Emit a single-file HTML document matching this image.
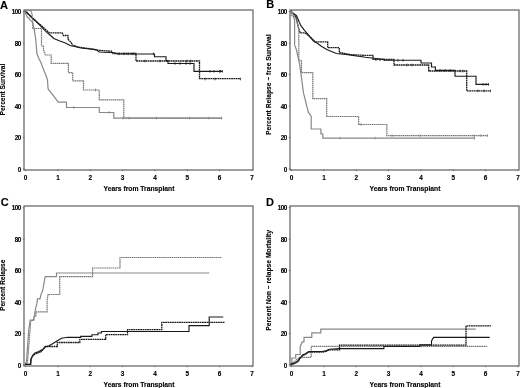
<!DOCTYPE html><html><head><meta charset="utf-8"><style>html,body{margin:0;padding:0;background:#fff;overflow:hidden;width:520px;height:388px;}svg{display:block;}#w{will-change:transform;width:520px;height:388px;}text{stroke:#000;stroke-width:0.12px;font-family:"Liberation Sans",sans-serif;font-weight:bold;fill:#000;}</style></head><body>
<div id="w">
<svg width="520" height="388" viewBox="0 0 520 388">
<rect width="520" height="388" fill="#fff"/>
<g>
<text x="0" y="8.7" font-size="11">A</text>
<text x="266.2" y="8.2" font-size="11">B</text>
<text x="0.8" y="205.6" font-size="11">C</text>
<text x="266" y="205.6" font-size="11">D</text>
<rect x="24" y="10" width="229" height="160" fill="none" stroke="#6c6c6c" stroke-width="1.3"/>
<text x="20.6" y="14.40" font-size="6.3" text-anchor="end" letter-spacing="-0.55">100</text>
<line x1="22.8" y1="11.70" x2="24.5" y2="11.70" stroke="#6c6c6c" stroke-width="0.9"/>
<text x="20.6" y="45.86" font-size="6.3" text-anchor="end" letter-spacing="-0.55">80</text>
<line x1="22.8" y1="43.16" x2="24.5" y2="43.16" stroke="#6c6c6c" stroke-width="0.9"/>
<text x="20.6" y="77.32" font-size="6.3" text-anchor="end" letter-spacing="-0.55">60</text>
<line x1="22.8" y1="74.62" x2="24.5" y2="74.62" stroke="#6c6c6c" stroke-width="0.9"/>
<text x="20.6" y="108.78" font-size="6.3" text-anchor="end" letter-spacing="-0.55">40</text>
<line x1="22.8" y1="106.08" x2="24.5" y2="106.08" stroke="#6c6c6c" stroke-width="0.9"/>
<text x="20.6" y="140.24" font-size="6.3" text-anchor="end" letter-spacing="-0.55">20</text>
<line x1="22.8" y1="137.54" x2="24.5" y2="137.54" stroke="#6c6c6c" stroke-width="0.9"/>
<text x="20.6" y="171.70" font-size="6.3" text-anchor="end" letter-spacing="-0.55">0</text>
<line x1="22.8" y1="169.00" x2="24.5" y2="169.00" stroke="#6c6c6c" stroke-width="0.9"/>
<text x="25.60" y="179.5" font-size="6.4" text-anchor="middle">0</text>
<line x1="25.60" y1="169.5" x2="25.60" y2="171.2" stroke="#6c6c6c" stroke-width="0.9"/>
<text x="57.93" y="179.5" font-size="6.4" text-anchor="middle">1</text>
<line x1="57.93" y1="169.5" x2="57.93" y2="171.2" stroke="#6c6c6c" stroke-width="0.9"/>
<text x="90.26" y="179.5" font-size="6.4" text-anchor="middle">2</text>
<line x1="90.26" y1="169.5" x2="90.26" y2="171.2" stroke="#6c6c6c" stroke-width="0.9"/>
<text x="122.59" y="179.5" font-size="6.4" text-anchor="middle">3</text>
<line x1="122.59" y1="169.5" x2="122.59" y2="171.2" stroke="#6c6c6c" stroke-width="0.9"/>
<text x="154.92" y="179.5" font-size="6.4" text-anchor="middle">4</text>
<line x1="154.92" y1="169.5" x2="154.92" y2="171.2" stroke="#6c6c6c" stroke-width="0.9"/>
<text x="187.25" y="179.5" font-size="6.4" text-anchor="middle">5</text>
<line x1="187.25" y1="169.5" x2="187.25" y2="171.2" stroke="#6c6c6c" stroke-width="0.9"/>
<text x="219.58" y="179.5" font-size="6.4" text-anchor="middle">6</text>
<line x1="219.58" y1="169.5" x2="219.58" y2="171.2" stroke="#6c6c6c" stroke-width="0.9"/>
<text x="251.91" y="179.5" font-size="6.4" text-anchor="middle">7</text>
<line x1="251.91" y1="169.5" x2="251.91" y2="171.2" stroke="#6c6c6c" stroke-width="0.9"/>
<text x="139" y="190.9" font-size="6.75" text-anchor="middle">Years from Transplant</text>
<text transform="translate(4.9,89.6) rotate(-90)" x="0" y="0" font-size="6.6" text-anchor="middle">Percent Survival</text>
<line x1="119" y1="52.5" x2="119" y2="55.099999999999994" stroke="#1a1a1a" stroke-width="0.8"/>
<line x1="124" y1="52.5" x2="124" y2="55.099999999999994" stroke="#1a1a1a" stroke-width="0.8"/>
<line x1="128" y1="52.5" x2="128" y2="55.099999999999994" stroke="#1a1a1a" stroke-width="0.8"/>
<line x1="132" y1="52.5" x2="132" y2="55.099999999999994" stroke="#1a1a1a" stroke-width="0.8"/>
<line x1="134" y1="52.5" x2="134" y2="55.099999999999994" stroke="#1a1a1a" stroke-width="0.8"/>
<line x1="153.4" y1="52.5" x2="153.4" y2="55.099999999999994" stroke="#1a1a1a" stroke-width="0.8"/>
<line x1="175" y1="62.2" x2="175" y2="64.8" stroke="#1a1a1a" stroke-width="0.8"/>
<line x1="180" y1="62.2" x2="180" y2="64.8" stroke="#1a1a1a" stroke-width="0.8"/>
<line x1="186" y1="62.2" x2="186" y2="64.8" stroke="#1a1a1a" stroke-width="0.8"/>
<line x1="190" y1="62.2" x2="190" y2="64.8" stroke="#1a1a1a" stroke-width="0.8"/>
<line x1="186.8" y1="59.7" x2="186.8" y2="62.3" stroke="#1a1a1a" stroke-width="0.8"/>
<line x1="190.8" y1="59.7" x2="190.8" y2="62.3" stroke="#1a1a1a" stroke-width="0.8"/>
<line x1="209.9" y1="70.0" x2="209.9" y2="72.6" stroke="#1a1a1a" stroke-width="0.8"/>
<line x1="213.9" y1="70.0" x2="213.9" y2="72.6" stroke="#1a1a1a" stroke-width="0.8"/>
<line x1="219.5" y1="70.0" x2="219.5" y2="72.6" stroke="#1a1a1a" stroke-width="0.8"/>
<line x1="220.5" y1="70.0" x2="220.5" y2="72.6" stroke="#1a1a1a" stroke-width="0.8"/>
<line x1="222.4" y1="70.0" x2="222.4" y2="72.6" stroke="#1a1a1a" stroke-width="0.8"/>
<line x1="145" y1="59.7" x2="145" y2="62.3" stroke="#1a1a1a" stroke-width="0.8"/>
<line x1="160" y1="59.7" x2="160" y2="62.3" stroke="#1a1a1a" stroke-width="0.8"/>
<line x1="205" y1="77.7" x2="205" y2="80.3" stroke="#1a1a1a" stroke-width="0.8"/>
<line x1="215" y1="77.7" x2="215" y2="80.3" stroke="#1a1a1a" stroke-width="0.8"/>
<line x1="240.4" y1="77.7" x2="240.4" y2="80.3" stroke="#1a1a1a" stroke-width="0.8"/>
<line x1="73.8" y1="106.2" x2="73.8" y2="108.8" stroke="#777" stroke-width="0.8"/>
<line x1="95.5" y1="88.7" x2="95.5" y2="91.3" stroke="#777" stroke-width="0.8"/>
<line x1="109" y1="111.2" x2="109" y2="113.8" stroke="#777" stroke-width="0.8"/>
<line x1="123" y1="116.8" x2="123" y2="119.39999999999999" stroke="#777" stroke-width="0.8"/>
<line x1="129" y1="116.8" x2="129" y2="119.39999999999999" stroke="#777" stroke-width="0.8"/>
<line x1="156.4" y1="116.8" x2="156.4" y2="119.39999999999999" stroke="#777" stroke-width="0.8"/>
<line x1="189.7" y1="116.8" x2="189.7" y2="119.39999999999999" stroke="#777" stroke-width="0.8"/>
<line x1="208.9" y1="116.8" x2="208.9" y2="119.39999999999999" stroke="#777" stroke-width="0.8"/>
<line x1="221.5" y1="116.8" x2="221.5" y2="119.39999999999999" stroke="#777" stroke-width="0.8"/>
<path d="M24.5,10.5 L27,12.5 L31.6,17.6 L36,21.5 L40.9,25.2 L47.3,31 L49.3,32.9 H62.1 L63.4,35.5 H68 V39.3 L71.2,42.6 L72.5,45 L78,47 L90,48.8 L99.2,50.4 L111.5,51.2 L113,53.5 H136 V61 H199.5 V78.7 H240.6" fill="none" stroke="#1a1a1a" stroke-width="1.3" stroke-dasharray="1.8,0.5"/>
<path d="M24.5,10.5 L27,13 L31.6,17 L36.4,21.5 L40.9,26.4 L47.3,32.9 L50,35 L53.8,38.5 L59.2,40.8 L65.4,43 L70,45.5 L78,47.3 L80.8,48 L96,49.6 L99.2,52 L114.6,52.7 L117.7,54 H154.5 V56.7 H166 V60.6 H168 V63.5 H194 V71.3 H222.6" fill="none" stroke="#1a1a1a" stroke-width="1.15"/>
<path d="M24.5,10.5 H31 L32,14.2 L32.8,21.5 V28.5 H41.5 V46 H43.5 V50 L45.5,55 H51.2 V63.4 H68.4 V72.6 H72.7 V80.9 H83.5 V90 H99.3 V99.8 H123.8 V118.1 H222.3" fill="none" stroke="#777" stroke-width="1.2" stroke-dasharray="1.6,0.5"/>
<path d="M24.5,10.5 L25.9,14.2 L27.4,17.3 L29,18 L29.7,19.6 L32,21.5 L33.2,25 L34.4,30 L35.7,39.3 L37,54.1 L39,58.7 L40.9,62.5 L43.5,69.6 L46.2,76 L47.5,80 L48.1,89 L52,93.8 L54.9,97.7 L58.2,102.2 H66.5 V107.5 H99.3 V112.5 H113.75 V118.1 H222.3" fill="none" stroke="#888" stroke-width="1.2"/>
<rect x="290" y="10" width="229" height="160" fill="none" stroke="#6c6c6c" stroke-width="1.3"/>
<text x="286.6" y="14.40" font-size="6.3" text-anchor="end" letter-spacing="-0.55">100</text>
<line x1="288.8" y1="11.70" x2="290.5" y2="11.70" stroke="#6c6c6c" stroke-width="0.9"/>
<text x="286.6" y="45.86" font-size="6.3" text-anchor="end" letter-spacing="-0.55">80</text>
<line x1="288.8" y1="43.16" x2="290.5" y2="43.16" stroke="#6c6c6c" stroke-width="0.9"/>
<text x="286.6" y="77.32" font-size="6.3" text-anchor="end" letter-spacing="-0.55">60</text>
<line x1="288.8" y1="74.62" x2="290.5" y2="74.62" stroke="#6c6c6c" stroke-width="0.9"/>
<text x="286.6" y="108.78" font-size="6.3" text-anchor="end" letter-spacing="-0.55">40</text>
<line x1="288.8" y1="106.08" x2="290.5" y2="106.08" stroke="#6c6c6c" stroke-width="0.9"/>
<text x="286.6" y="140.24" font-size="6.3" text-anchor="end" letter-spacing="-0.55">20</text>
<line x1="288.8" y1="137.54" x2="290.5" y2="137.54" stroke="#6c6c6c" stroke-width="0.9"/>
<text x="286.6" y="171.70" font-size="6.3" text-anchor="end" letter-spacing="-0.55">0</text>
<line x1="288.8" y1="169.00" x2="290.5" y2="169.00" stroke="#6c6c6c" stroke-width="0.9"/>
<text x="291.60" y="179.5" font-size="6.4" text-anchor="middle">0</text>
<line x1="291.60" y1="169.5" x2="291.60" y2="171.2" stroke="#6c6c6c" stroke-width="0.9"/>
<text x="323.93" y="179.5" font-size="6.4" text-anchor="middle">1</text>
<line x1="323.93" y1="169.5" x2="323.93" y2="171.2" stroke="#6c6c6c" stroke-width="0.9"/>
<text x="356.26" y="179.5" font-size="6.4" text-anchor="middle">2</text>
<line x1="356.26" y1="169.5" x2="356.26" y2="171.2" stroke="#6c6c6c" stroke-width="0.9"/>
<text x="388.59" y="179.5" font-size="6.4" text-anchor="middle">3</text>
<line x1="388.59" y1="169.5" x2="388.59" y2="171.2" stroke="#6c6c6c" stroke-width="0.9"/>
<text x="420.92" y="179.5" font-size="6.4" text-anchor="middle">4</text>
<line x1="420.92" y1="169.5" x2="420.92" y2="171.2" stroke="#6c6c6c" stroke-width="0.9"/>
<text x="453.25" y="179.5" font-size="6.4" text-anchor="middle">5</text>
<line x1="453.25" y1="169.5" x2="453.25" y2="171.2" stroke="#6c6c6c" stroke-width="0.9"/>
<text x="485.58" y="179.5" font-size="6.4" text-anchor="middle">6</text>
<line x1="485.58" y1="169.5" x2="485.58" y2="171.2" stroke="#6c6c6c" stroke-width="0.9"/>
<text x="517.91" y="179.5" font-size="6.4" text-anchor="middle">7</text>
<line x1="517.91" y1="169.5" x2="517.91" y2="171.2" stroke="#6c6c6c" stroke-width="0.9"/>
<text x="405" y="190.9" font-size="6.75" text-anchor="middle">Years from Transplant</text>
<text transform="translate(270.9,84.7) rotate(-90)" x="0" y="0" font-size="6.75" text-anchor="middle">Percent Relapse – free Survival</text>
<line x1="339.8" y1="136.79999999999998" x2="339.8" y2="139.4" stroke="#777" stroke-width="0.8"/>
<line x1="375" y1="136.79999999999998" x2="375" y2="139.4" stroke="#777" stroke-width="0.8"/>
<line x1="474.5" y1="136.79999999999998" x2="474.5" y2="139.4" stroke="#777" stroke-width="0.8"/>
<line x1="361" y1="123.2" x2="361" y2="125.8" stroke="#777" stroke-width="0.8"/>
<line x1="474" y1="134.29999999999998" x2="474" y2="136.9" stroke="#777" stroke-width="0.8"/>
<line x1="481" y1="134.29999999999998" x2="481" y2="136.9" stroke="#777" stroke-width="0.8"/>
<line x1="487.4" y1="134.29999999999998" x2="487.4" y2="136.9" stroke="#777" stroke-width="0.8"/>
<line x1="392" y1="134.29999999999998" x2="392" y2="136.9" stroke="#888" stroke-width="0.8"/>
<line x1="420" y1="134.29999999999998" x2="420" y2="136.9" stroke="#888" stroke-width="0.8"/>
<line x1="376" y1="58.5" x2="376" y2="61.099999999999994" stroke="#1a1a1a" stroke-width="0.8"/>
<line x1="380" y1="58.5" x2="380" y2="61.099999999999994" stroke="#1a1a1a" stroke-width="0.8"/>
<line x1="384" y1="58.5" x2="384" y2="61.099999999999994" stroke="#1a1a1a" stroke-width="0.8"/>
<line x1="398" y1="58.900000000000006" x2="398" y2="61.5" stroke="#1a1a1a" stroke-width="0.8"/>
<line x1="403" y1="58.900000000000006" x2="403" y2="61.5" stroke="#1a1a1a" stroke-width="0.8"/>
<line x1="407" y1="63.7" x2="407" y2="66.3" stroke="#1a1a1a" stroke-width="0.8"/>
<line x1="412" y1="63.7" x2="412" y2="66.3" stroke="#1a1a1a" stroke-width="0.8"/>
<line x1="440" y1="69.10000000000001" x2="440" y2="71.7" stroke="#1a1a1a" stroke-width="0.8"/>
<line x1="445" y1="69.10000000000001" x2="445" y2="71.7" stroke="#1a1a1a" stroke-width="0.8"/>
<line x1="450" y1="69.10000000000001" x2="450" y2="71.7" stroke="#1a1a1a" stroke-width="0.8"/>
<line x1="460" y1="69.7" x2="460" y2="72.3" stroke="#1a1a1a" stroke-width="0.8"/>
<line x1="463" y1="69.7" x2="463" y2="72.3" stroke="#1a1a1a" stroke-width="0.8"/>
<line x1="483" y1="83.10000000000001" x2="483" y2="85.7" stroke="#1a1a1a" stroke-width="0.8"/>
<line x1="486" y1="83.10000000000001" x2="486" y2="85.7" stroke="#1a1a1a" stroke-width="0.8"/>
<line x1="488.5" y1="83.10000000000001" x2="488.5" y2="85.7" stroke="#1a1a1a" stroke-width="0.8"/>
<line x1="478" y1="89.60000000000001" x2="478" y2="92.2" stroke="#1a1a1a" stroke-width="0.8"/>
<line x1="484" y1="89.60000000000001" x2="484" y2="92.2" stroke="#1a1a1a" stroke-width="0.8"/>
<line x1="490.4" y1="89.60000000000001" x2="490.4" y2="92.2" stroke="#1a1a1a" stroke-width="0.8"/>
<path d="M290.5,10.5 L293,13.5 L296,17 L298.3,27.3 L300.2,32.9 H304.8 L308.6,35.5 L312,38.5 L315,41.8 H327.7 V47.7 H339.3 V52.5 L350,54.5 L365,55.4 H373 V59.3 H394 V65 H428.7 V71 H466.7 V90.9 H490.6" fill="none" stroke="#1a1a1a" stroke-width="1.3" stroke-dasharray="1.8,0.5"/>
<path d="M290.5,10.5 L292.8,12.9 L296.5,15.7 L299.3,22.2 L301.1,25.9 L303.9,29.6 L308.6,35.2 L313.2,40.8 L317,43 L321,46 L326.7,49.6 L336.4,53.5 L346,54.4 L365.4,57.3 L384.4,59.5 V60.2 H421 V63 H431.5 V67 H435.4 V70.4 H455 V76.2 H476 V84.4 H488.7" fill="none" stroke="#1a1a1a" stroke-width="1.15"/>
<path d="M290.5,10.5 L291.9,15.7 L295.6,17.6 L297,21.3 L298.8,28.7 V60 L301.5,61 V72.6 H312.8 V98.7 H326.7 V116.5 H358.6 V124.5 H386.8 V135.6 H487.6" fill="none" stroke="#777" stroke-width="1.2" stroke-dasharray="1.6,0.5"/>
<path d="M290.5,10.5 L292.5,13 L294.6,20.3 V45 L296.5,50 L299.6,64 L303.5,92.9 L308.3,112.2 L311.2,116.4 V129 H320.9 V133.8 H322.8 V138.1 H474.8" fill="none" stroke="#888" stroke-width="1.2"/>
<rect x="24" y="206" width="229" height="160" fill="none" stroke="#6c6c6c" stroke-width="1.3"/>
<text x="20.6" y="210.40" font-size="6.3" text-anchor="end" letter-spacing="-0.55">100</text>
<line x1="22.8" y1="207.70" x2="24.5" y2="207.70" stroke="#6c6c6c" stroke-width="0.9"/>
<text x="20.6" y="241.86" font-size="6.3" text-anchor="end" letter-spacing="-0.55">80</text>
<line x1="22.8" y1="239.16" x2="24.5" y2="239.16" stroke="#6c6c6c" stroke-width="0.9"/>
<text x="20.6" y="273.32" font-size="6.3" text-anchor="end" letter-spacing="-0.55">60</text>
<line x1="22.8" y1="270.62" x2="24.5" y2="270.62" stroke="#6c6c6c" stroke-width="0.9"/>
<text x="20.6" y="304.78" font-size="6.3" text-anchor="end" letter-spacing="-0.55">40</text>
<line x1="22.8" y1="302.08" x2="24.5" y2="302.08" stroke="#6c6c6c" stroke-width="0.9"/>
<text x="20.6" y="336.24" font-size="6.3" text-anchor="end" letter-spacing="-0.55">20</text>
<line x1="22.8" y1="333.54" x2="24.5" y2="333.54" stroke="#6c6c6c" stroke-width="0.9"/>
<text x="20.6" y="367.70" font-size="6.3" text-anchor="end" letter-spacing="-0.55">0</text>
<line x1="22.8" y1="365.00" x2="24.5" y2="365.00" stroke="#6c6c6c" stroke-width="0.9"/>
<text x="25.60" y="375.5" font-size="6.4" text-anchor="middle">0</text>
<line x1="25.60" y1="365.5" x2="25.60" y2="367.2" stroke="#6c6c6c" stroke-width="0.9"/>
<text x="57.93" y="375.5" font-size="6.4" text-anchor="middle">1</text>
<line x1="57.93" y1="365.5" x2="57.93" y2="367.2" stroke="#6c6c6c" stroke-width="0.9"/>
<text x="90.26" y="375.5" font-size="6.4" text-anchor="middle">2</text>
<line x1="90.26" y1="365.5" x2="90.26" y2="367.2" stroke="#6c6c6c" stroke-width="0.9"/>
<text x="122.59" y="375.5" font-size="6.4" text-anchor="middle">3</text>
<line x1="122.59" y1="365.5" x2="122.59" y2="367.2" stroke="#6c6c6c" stroke-width="0.9"/>
<text x="154.92" y="375.5" font-size="6.4" text-anchor="middle">4</text>
<line x1="154.92" y1="365.5" x2="154.92" y2="367.2" stroke="#6c6c6c" stroke-width="0.9"/>
<text x="187.25" y="375.5" font-size="6.4" text-anchor="middle">5</text>
<line x1="187.25" y1="365.5" x2="187.25" y2="367.2" stroke="#6c6c6c" stroke-width="0.9"/>
<text x="219.58" y="375.5" font-size="6.4" text-anchor="middle">6</text>
<line x1="219.58" y1="365.5" x2="219.58" y2="367.2" stroke="#6c6c6c" stroke-width="0.9"/>
<text x="251.91" y="375.5" font-size="6.4" text-anchor="middle">7</text>
<line x1="251.91" y1="365.5" x2="251.91" y2="367.2" stroke="#6c6c6c" stroke-width="0.9"/>
<text x="139" y="386.9" font-size="6.75" text-anchor="middle">Years from Transplant</text>
<text transform="translate(4.9,285.3) rotate(-90)" x="0" y="0" font-size="6.6" text-anchor="middle">Percent Relapse</text>
<path d="M25,364.3 L27.5,362 L29.7,335 L30.8,320 H33.9 V316.3 H35.9 V311.8 H47.1 V300 L48.1,294.5 H59.7 V276.7 H92.6 V268 H120 V257.5 H221.9" fill="none" stroke="#777" stroke-width="1.2" stroke-dasharray="1.6,0.5"/>
<path d="M25,364.3 L26.5,362 L28.7,330 L30.2,320.4 H33.3 L34.4,315.8 L35.4,309.6 L36.9,303.4 L37.5,298.8 H40 L41.1,294.1 L42.6,291 L44.2,282 L45.2,276.7 H56.5 V273 H209.2" fill="none" stroke="#888" stroke-width="1.2"/>
<path d="M25,364.3 H30.8 L31.3,358.5 L33.2,355.5 L35,354 L38.8,352.6 L41.5,351.5 L45.2,346.5 H57.3 V342.5 H79.8 V339.4 H105.7 V334.6 H127.5 V329.6 H161.8 V322.4 H224.5" fill="none" stroke="#1a1a1a" stroke-width="1.3" stroke-dasharray="1.8,0.5"/>
<path d="M25,364.3 H30.4 L31,358.7 L33,354.8 L34.9,352.9 L38.8,351.6 L43.3,349 L45.2,347 L49,345.8 L53,343.4 L57.3,340.8 L61.6,338.2 L67.7,337.3 H80.7 V336.4 H91.9 V334.7 H98 V333 H101.4 V331.5 H189 V325.6 H209.2 V317 H223.2" fill="none" stroke="#1a1a1a" stroke-width="1.15"/>
<rect x="290" y="206" width="229" height="160" fill="none" stroke="#6c6c6c" stroke-width="1.3"/>
<text x="286.6" y="210.40" font-size="6.3" text-anchor="end" letter-spacing="-0.55">100</text>
<line x1="288.8" y1="207.70" x2="290.5" y2="207.70" stroke="#6c6c6c" stroke-width="0.9"/>
<text x="286.6" y="241.86" font-size="6.3" text-anchor="end" letter-spacing="-0.55">80</text>
<line x1="288.8" y1="239.16" x2="290.5" y2="239.16" stroke="#6c6c6c" stroke-width="0.9"/>
<text x="286.6" y="273.32" font-size="6.3" text-anchor="end" letter-spacing="-0.55">60</text>
<line x1="288.8" y1="270.62" x2="290.5" y2="270.62" stroke="#6c6c6c" stroke-width="0.9"/>
<text x="286.6" y="304.78" font-size="6.3" text-anchor="end" letter-spacing="-0.55">40</text>
<line x1="288.8" y1="302.08" x2="290.5" y2="302.08" stroke="#6c6c6c" stroke-width="0.9"/>
<text x="286.6" y="336.24" font-size="6.3" text-anchor="end" letter-spacing="-0.55">20</text>
<line x1="288.8" y1="333.54" x2="290.5" y2="333.54" stroke="#6c6c6c" stroke-width="0.9"/>
<text x="286.6" y="367.70" font-size="6.3" text-anchor="end" letter-spacing="-0.55">0</text>
<line x1="288.8" y1="365.00" x2="290.5" y2="365.00" stroke="#6c6c6c" stroke-width="0.9"/>
<text x="291.60" y="375.5" font-size="6.4" text-anchor="middle">0</text>
<line x1="291.60" y1="365.5" x2="291.60" y2="367.2" stroke="#6c6c6c" stroke-width="0.9"/>
<text x="323.93" y="375.5" font-size="6.4" text-anchor="middle">1</text>
<line x1="323.93" y1="365.5" x2="323.93" y2="367.2" stroke="#6c6c6c" stroke-width="0.9"/>
<text x="356.26" y="375.5" font-size="6.4" text-anchor="middle">2</text>
<line x1="356.26" y1="365.5" x2="356.26" y2="367.2" stroke="#6c6c6c" stroke-width="0.9"/>
<text x="388.59" y="375.5" font-size="6.4" text-anchor="middle">3</text>
<line x1="388.59" y1="365.5" x2="388.59" y2="367.2" stroke="#6c6c6c" stroke-width="0.9"/>
<text x="420.92" y="375.5" font-size="6.4" text-anchor="middle">4</text>
<line x1="420.92" y1="365.5" x2="420.92" y2="367.2" stroke="#6c6c6c" stroke-width="0.9"/>
<text x="453.25" y="375.5" font-size="6.4" text-anchor="middle">5</text>
<line x1="453.25" y1="365.5" x2="453.25" y2="367.2" stroke="#6c6c6c" stroke-width="0.9"/>
<text x="485.58" y="375.5" font-size="6.4" text-anchor="middle">6</text>
<line x1="485.58" y1="365.5" x2="485.58" y2="367.2" stroke="#6c6c6c" stroke-width="0.9"/>
<text x="517.91" y="375.5" font-size="6.4" text-anchor="middle">7</text>
<line x1="517.91" y1="365.5" x2="517.91" y2="367.2" stroke="#6c6c6c" stroke-width="0.9"/>
<text x="405" y="386.9" font-size="6.75" text-anchor="middle">Years from Transplant</text>
<text transform="translate(270.9,280.4) rotate(-90)" x="0" y="0" font-size="6.75" text-anchor="middle">Percent Non – relapse Mortality</text>
<path d="M291,364.3 H291.9 V358 H295.7 V354.5 H300.2 V346.4 L302.2,341.9 H304 V337.4 H311.8 V332.9 H320.8 V329.2 H475.8" fill="none" stroke="#888" stroke-width="1.2"/>
<path d="M291,364.3 L293.1,362.5 L299.6,357.3 H311.2 V346.4 H487.4" fill="none" stroke="#777" stroke-width="1.2" stroke-dasharray="1.6,0.5"/>
<path d="M290.6,364.3 L294.4,363.6 L297.7,361.8 L299.6,359.2 L302.8,355.4 L305.4,354.4 L308.6,352.2 H322.1 L326.6,351.2 L329.2,349.8 H339.5 V345.2 H466 V325.9 H490.9" fill="none" stroke="#1a1a1a" stroke-width="1.3" stroke-dasharray="1.8,0.5"/>
<path d="M290.6,364.4 L294.4,363.1 L297.7,361.2 L299.6,358.6 L302.8,354.7 L305.4,353.7 L308.6,351.5 H322.1 L326.6,350.6 L329.2,349.3 L339.5,348.6 H383.9 V346.5 H419.9 V344.8 H431.5 V341 L433.6,337.4 H489.7" fill="none" stroke="#1a1a1a" stroke-width="1.15"/>
</g></svg></div></body></html>
